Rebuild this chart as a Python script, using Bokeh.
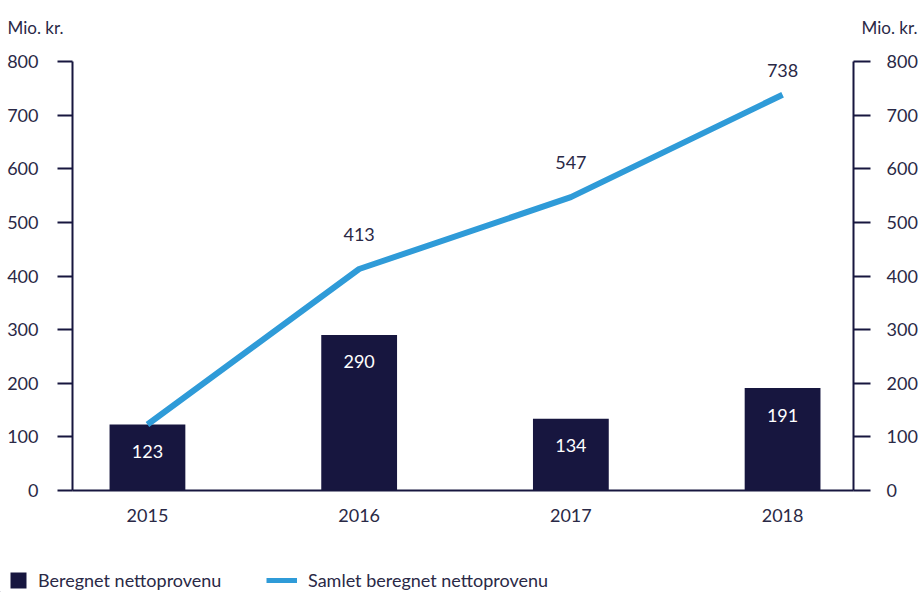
from bokeh.plotting import figure
from bokeh.layouts import column
from bokeh.models import (Range1d, LinearAxis, FixedTicker, ColumnDataSource, LabelSet,
                          Legend, LegendItem)
from bokeh.core.properties import value
from bokeh.embed import file_html
from bokeh.resources import INLINE

# ---- data ----
years = ["2015", "2016", "2017", "2018"]
beregnet = [123, 290, 134, 191]
samlet = [123, 413, 547, 738]
y_ticks = [0, 100, 200, 300, 400, 500, 600, 700, 800]
unit_label = "Mio. kr."
legend_bar = "Beregnet nettoprovenu"
legend_line = "Samlet beregnet nettoprovenu"

# ---- style ----
NAVY = "#17163f"
BLUE = "#2f9bd8"
TEXT = "#2a2946"
FONT = "Lato"
FS = "18px"
W = 920
HEAD_H = 40
FOOT_H = 42
MAIN_H = 592 - HEAD_H - FOOT_H


def strip(height, y_flip=False):
    f = figure(width=W, height=height, output_backend="svg", toolbar_location=None,
               x_range=Range1d(0, W),
               y_range=Range1d(height, 0) if y_flip else Range1d(0, height),
               frame_align=False, min_border=0, min_border_left=0, min_border_right=0,
               min_border_top=0, min_border_bottom=0,
               x_axis_location=None, y_axis_location=None)
    f.outline_line_color = None
    f.grid.visible = False
    return f


# ---- header with unit labels ----
head = strip(HEAD_H, y_flip=True)
head.text(x=[7, 917], y=[27, 27], text=[unit_label, unit_label],
          text_align=["left", "right"], text_baseline="alphabetic",
          text_color=TEXT, text_font=value(FONT), text_font_size="17px")

# ---- main chart ----
xs = list(range(len(years)))

p = figure(width=W, height=MAIN_H, output_backend="svg", toolbar_location=None,
           x_range=Range1d(-0.354, 3.335), y_range=Range1d(0, 800),
           min_border_left=72, min_border_right=66, min_border_top=21, min_border_bottom=60,
           y_axis_location=None)
p.outline_line_color = None
p.grid.visible = False

bar_src = ColumnDataSource(dict(x=xs, top=beregnet, lab=[str(v) for v in beregnet]))
line_src = ColumnDataSource(dict(x=xs, y=samlet))

p.vbar(x="x", top="top", width=0.358, bottom=0, source=bar_src,
       fill_color=NAVY, line_color=None)
p.line(x="x", y="y", source=line_src, line_color=BLUE, line_width=6)

for side, standoff, tick_out in (("left", 19, 15), ("right", 16, 17)):
    ax = LinearAxis(ticker=FixedTicker(ticks=y_ticks))
    ax.axis_line_color = NAVY
    ax.axis_line_width = 2
    ax.major_tick_line_color = NAVY
    ax.major_tick_line_width = 2
    ax.major_tick_out = tick_out
    ax.major_tick_in = 0
    ax.minor_tick_line_color = None
    ax.major_label_standoff = standoff
    ax.major_label_text_font = FONT
    ax.major_label_text_font_size = FS
    ax.major_label_text_color = TEXT
    p.add_layout(ax, side)

xa = p.xaxis[0]
xa.ticker = FixedTicker(ticks=xs)
xa.major_label_overrides = {i: y for i, y in zip(xs, years)}
xa.axis_line_color = NAVY
xa.axis_line_width = 2
xa.major_tick_line_color = None
xa.minor_tick_line_color = None
xa.major_tick_out = 0
xa.major_label_standoff = 18
xa.major_label_text_font = FONT
xa.major_label_text_font_size = FS
xa.major_label_text_color = TEXT

# bar value labels (white, inside bars)
p.add_layout(LabelSet(x="x", y="top", text="lab", source=bar_src, y_offset=-27,
                      text_align="center", text_baseline="middle", text_color="white",
                      text_font=value(FONT), text_font_size=FS))

# cumulative line labels (the first equals the bar value, so it is not repeated)
lab_src = ColumnDataSource(dict(x=xs[1:], y=samlet[1:], lab=[str(v) for v in samlet[1:]],
                                off=[35, 35, 24]))
p.add_layout(LabelSet(x="x", y="y", text="lab", source=lab_src, y_offset="off",
                      text_align="center", text_baseline="middle", text_color=TEXT,
                      text_font=value(FONT), text_font_size=FS))

# ---- footer with legend (swatch renderers sit outside the strip's visible range) ----
foot = strip(FOOT_H)
sw_bar = foot.vbar(x=[-100], top=[1], width=1, fill_color=NAVY, line_color=None)
sw_line = foot.line(x=[-100, -90], y=[1, 1], line_color=BLUE, line_width=5)


def mk_legend(item, loc, gw, standoff):
    lg = Legend(items=[item], location=loc, orientation="horizontal",
                glyph_width=gw, glyph_height=20, label_height=20, padding=0, margin=0,
                spacing=0, label_standoff=standoff, border_line_color=None,
                background_fill_alpha=0, label_text_font=FONT,
                label_text_font_size=FS, label_text_color=TEXT)
    foot.add_layout(lg, "center")


mk_legend(LegendItem(label=legend_bar, renderers=[sw_bar]), (8, 1), 20, 10)
mk_legend(LegendItem(label=legend_line, renderers=[sw_line]), (266, 1), 31, 11)

layout = column(head, p, foot, spacing=0)
open("out.html", "w").write(file_html(layout, INLINE))
